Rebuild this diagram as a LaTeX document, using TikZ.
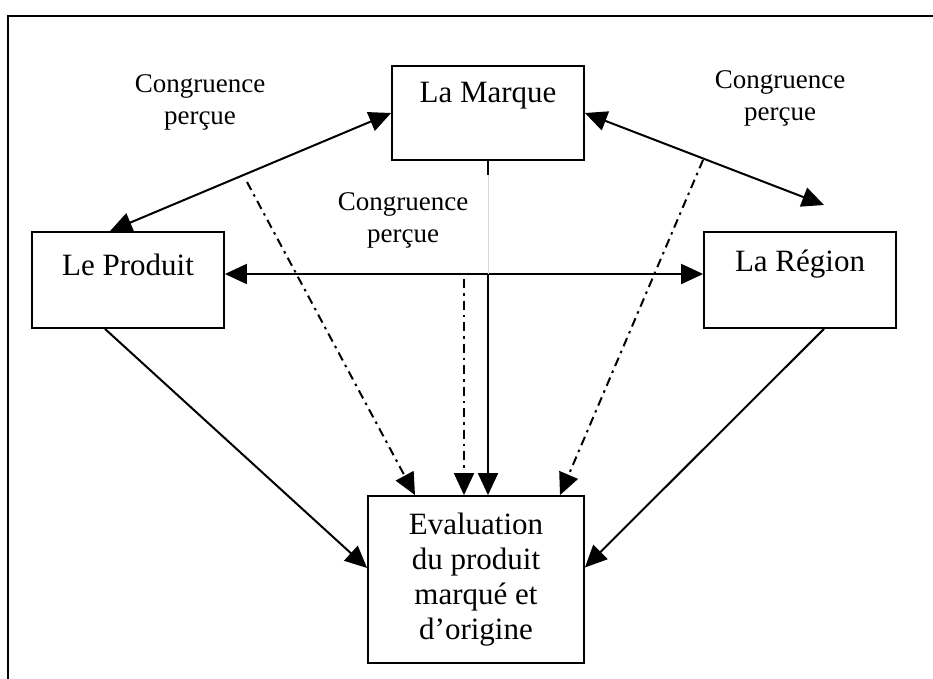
\documentclass[tikz,border=0pt]{standalone}
\usepackage{fontspec}
\setmainfont{Liberation Serif}
\usetikzlibrary{arrows.meta}
\begin{document}
\begin{tikzpicture}[x=1pt,y=-1pt,
  box/.style={draw, line width=1.8pt, inner sep=0pt},
  boxtext/.style={font=\fontsize{31}{35}\selectfont, align=center, inner sep=0pt},
  lbl/.style={font=\fontsize{27}{32}\selectfont, align=center, inner sep=0pt},
  conn/.style={line width=2pt},
  tip/.style={-{Triangle[length=22pt,width=20pt]}},
  both/.style={{Triangle[length=22pt,width=20pt]}-{Triangle[length=22pt,width=20pt]}},
  dashdot/.style={line width=2pt, dash pattern=on 9pt off 5pt on 2.5pt off 5pt},
]
\useasboundingbox (0,0) rectangle (933,679);
% open frame
\draw[line width=2.6pt] (8,679) -- (8,16) -- (933,16);

% boxes
\node[box, minimum width=192pt, minimum height=94pt] (marque) at (488,113) {};
\node[box, minimum width=192pt, minimum height=96pt] (produit) at (128,280) {};
\node[box, minimum width=192pt, minimum height=96pt] (region) at (800,280) {};
\node[box, boxtext, minimum width=216pt, minimum height=167pt] (eval) at (476,579.5)
  {Evaluation\\du produit\\marqué et\\d’origine};

% box captions
\node[boxtext] (marqueT) at (488,96) {La Marque};
\node[boxtext] (produitT) at (128,265) {Le Produit};
\node[boxtext] (regionT) at (800,264) {La Région};

% labels
\node[lbl] (lblA) at (200,102) {Congruence\\perçue};
\node[lbl] (lblB) at (780,98) {Congruence\\perçue};
\node[lbl] (lblC) at (403,220) {Congruence\\perçue};

% free ends and waypoints
\coordinate (regtip) at (824,205);
\coordinate (vA) at (488,175);
\coordinate (vB) at (488,274);
\coordinate (dl) at (247,182);
\coordinate (dc) at (464,279);
\coordinate (dr) at (703,160);

% perceived congruence links
\draw[conn, both] (marque.west) -- ([xshift=-18pt]produit.north);
\draw[conn, both] (marque.east) -- (regtip);
\draw[conn, both] ([yshift=6pt]produit.east) -- ([yshift=6pt]region.west);

% brand to evaluation
\draw[conn] (marque.south) -- (vA);
\draw[line width=0.8pt, black!15] (vA) -- (vB);
\draw[conn, tip] (vB) -- ([xshift=12pt]eval.north);

% congruence effects on evaluation
\draw[dashdot, tip] (dl) -- ([xshift=-61pt]eval.north);
\draw[dashdot, tip] (dc) -- ([xshift=-12pt]eval.north);
\draw[dashdot, tip] (dr) -- ([xshift=84pt]eval.north);

% product and region to evaluation
\draw[conn, tip] ([xshift=-23pt]produit.south) -- ([yshift=11.5pt]eval.west);
\draw[conn, tip] ([xshift=24pt]region.south) -- ([yshift=12pt]eval.east);
\end{tikzpicture}
\end{document}
